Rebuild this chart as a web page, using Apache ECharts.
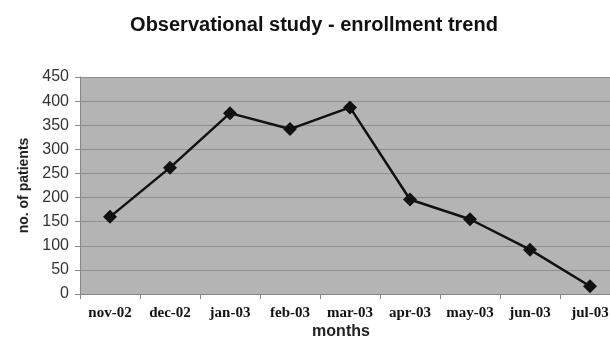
<!DOCTYPE html>
<html><head><meta charset="utf-8">
<script src="https://cdn.jsdelivr.net/npm/echarts@6/dist/echarts.min.js"></script>
<style>html,body{margin:0;padding:0;background:#fff;overflow:hidden;width:610px;height:357px}#c{width:620px;height:357px}</style>
</head><body><div id="c"></div>
<script>
const categories = ['nov-02','dec-02','jan-03','feb-03','mar-03','apr-03','may-03','jun-03','jul-03'];
const patients = [160, 262, 375, 342, 387, 196, 155, 92, 16];
const yTicks = {min: 0, max: 450, interval: 50};

const chart = echarts.init(document.getElementById('c'));
chart.setOption({
  animation: false,
  backgroundColor: '#ffffff',
  title: [{
    text: 'Observational study - enrollment trend',
    left: 309, top: 10, textAlign: 'center',
    textStyle: {fontFamily: 'Liberation Sans, Arial', fontWeight: 'bold', fontSize: 20, color: '#111'}
  }, {
    text: 'months',
    left: 336, top: 319, textAlign: 'center',
    textStyle: {fontFamily: 'Liberation Sans, Arial', fontWeight: 'bold', fontSize: 16, color: '#222'}
  }],
  grid: {left: 80, top: 77, right: 0, height: 217, backgroundColor: '#b4b4b4', show: true, borderWidth: 0},
  xAxis: {
    type: 'category', data: categories, boundaryGap: true,
    axisLine: {lineStyle: {color: '#888', width: 1}},
    axisTick: {show: true, length: 5, lineStyle: {color: '#888'}},
    axisLabel: {fontFamily: 'Liberation Serif, Times New Roman', fontWeight: 'bold', fontSize: 15, color: '#111', margin: 12, interval: 0},
    splitLine: {show: false}
  },
  yAxis: {
    type: 'value', min: yTicks.min, max: yTicks.max, interval: yTicks.interval,
    name: 'no. of patients', nameLocation: 'middle', nameGap: 49, nameRotate: 90,
    nameTextStyle: {fontFamily: 'Liberation Sans, Arial', fontWeight: 'bold', fontSize: 14, color: '#222'},
    axisLine: {show: true, lineStyle: {color: '#888'}},
    axisTick: {show: true, length: 5, lineStyle: {color: '#888'}},
    axisLabel: {fontFamily: 'Liberation Sans, Arial', fontSize: 16, color: '#333', margin: 11},
    splitLine: {show: true, lineStyle: {color: '#8f8f8f', width: 1}}
  },
  series: [{
    type: 'line', data: patients,
    symbol: 'diamond', symbolSize: 14,
    lineStyle: {color: '#111', width: 2.5},
    itemStyle: {color: '#111'}
  }]
});
</script></body></html>
